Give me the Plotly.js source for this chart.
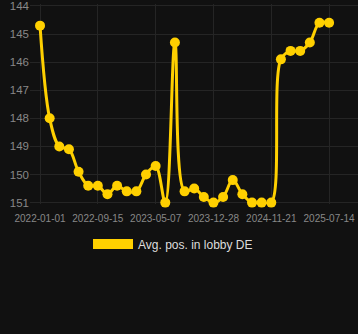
<!DOCTYPE html>
<html>
<head>
<meta charset="utf-8">
<script src="https://cdn.plot.ly/plotly-3.0.1.min.js"></script>
<style>
  html, body { margin: 0; padding: 0; background: #111111; }
  #chart { width: 358px; height: 334px; }
</style>
</head>
<body>
<div id="chart"></div>
<script>
const dates = [
  "2022-01-01", "2022-02-13", "2022-03-28", "2022-05-10", "2022-06-22", "2022-08-04", "2022-09-15",
  "2022-10-24", "2022-12-02", "2023-01-10", "2023-02-18", "2023-03-29", "2023-05-07",
  "2023-06-15", "2023-07-24", "2023-09-01", "2023-10-10", "2023-11-18", "2023-12-28",
  "2024-02-21", "2024-04-15", "2024-06-08", "2024-08-01", "2024-09-25", "2024-11-21",
  "2024-12-30", "2025-02-07", "2025-03-18", "2025-04-26", "2025-06-04", "2025-07-14"
];
const avgPos = [
  144.7, 148.0, 149.0, 149.1, 149.9, 150.4, 150.4,
  150.7, 150.4, 150.6, 150.6, 150.0, 149.7,
  151.0, 145.3, 150.6, 150.5, 150.8, 151.0,
  150.8, 150.2, 150.7, 151.0, 151.0, 151.0,
  145.9, 145.6, 145.6, 145.3, 144.6, 144.6
];
const tickDates = ["2022-01-01", "2022-09-15", "2023-05-07", "2023-12-28", "2024-11-21", "2025-07-14"];
const yTicks = [144, 145, 146, 147, 148, 149, 150, 151];
const seriesName = "Avg. pos. in lobby DE";
const lineColor = "#FFD000";

const traces = [
  {
    x: dates,
    y: avgPos,
    type: "scatter",
    mode: "lines+markers",
    line: { color: lineColor, width: 3, shape: "spline", smoothing: 1 },
    marker: { color: lineColor, size: 10 },
    showlegend: false,
    cliponaxis: false,
    hoverinfo: "x+y"
  },
  {
    x: [null],
    y: [null],
    type: "scatter",
    mode: "lines",
    name: seriesName,
    line: { color: lineColor, width: 12 },
    showlegend: true
  }
];

const layout = {
  width: 358,
  height: 334,
  paper_bgcolor: "#111111",
  plot_bgcolor: "#111111",
  margin: { l: 30, r: 0, t: 4, b: 130 },
  font: { family: "Liberation Sans, Arial, sans-serif", color: "#888888" },
  xaxis: {
    type: "category",
    range: [-1.04, 33.0],
    tickmode: "array",
    tickvals: tickDates,
    ticktext: tickDates,
    tickfont: { size: 10, color: "#888888" },
    ticklabelstandoff: 7,
    ticklabeloverflow: "allow",
    showgrid: true,
    gridcolor: "#252525",
    zeroline: false,
    showline: false,
    ticks: ""
  },
  yaxis: {
    range: [151.05, 143.93],
    tickmode: "array",
    tickvals: yTicks,
    tickfont: { size: 11.5, color: "#888888" },
    ticklabeloverflow: "allow",
    showgrid: true,
    gridcolor: "#252525",
    zeroline: false,
    showline: false,
    ticks: ""
  },
  showlegend: true,
  legend: {
    orientation: "h",
    x: 0.436,
    xanchor: "center",
    y: -0.2,
    yanchor: "middle",
    itemwidth: 40,
    font: { size: 12, color: "#dddddd" },
    bgcolor: "rgba(0,0,0,0)"
  }
};

Plotly.newPlot("chart", traces, layout, { displayModeBar: false, staticPlot: true });
</script>
</body>
</html>
